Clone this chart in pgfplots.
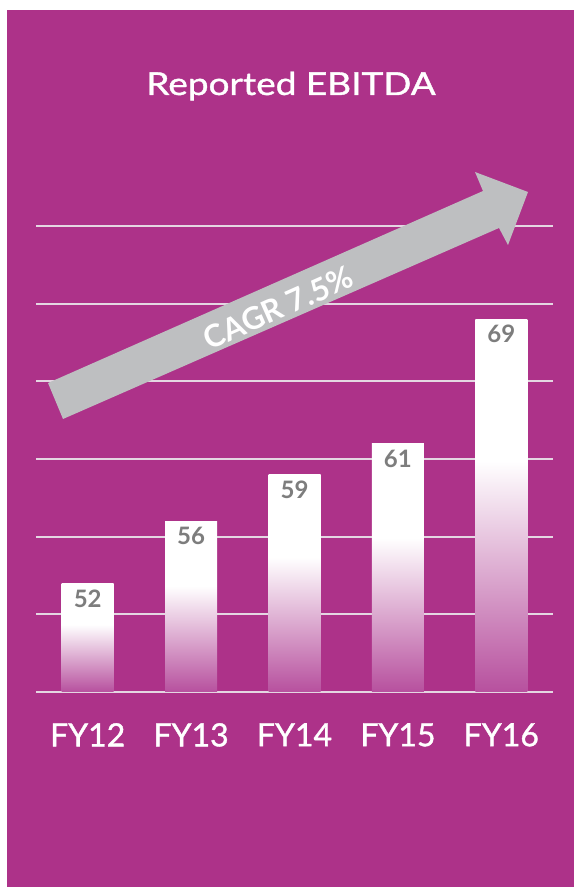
\documentclass[border=0pt]{standalone}
\usepackage{pgfplots}
\pgfplotsset{compat=1.18}
\usepackage{fontspec}
\setmainfont{Lato}
\newfontfamily\medfont{Lato}[FakeBold=1.2]
\newfontfamily\titlefont{Lato}[FakeBold=1.2, FakeStretch=1.17]
\definecolor{bg}{RGB}{173,50,137}
\definecolor{barbot}{RGB}{183,80,158}
\definecolor{gridc}{RGB}{228,214,226}
\definecolor{arrowc}{RGB}{190,191,193}
\definecolor{numc}{RGB}{125,125,125}
\pgfdeclareverticalshading{barfade}{100bp}{color(0bp)=(barbot); color(25bp)=(barbot); color(56bp)=(white); color(75bp)=(white); color(100bp)=(white)}
\begin{document}
\begin{tikzpicture}[x=1pt,y=1pt]
\fill[white] (0,0) rectangle (574,887);
\fill[bg] (7,0) rectangle (574,877);
\begin{axis}[
  at={(36pt,195pt)}, anchor=south west,
  scale only axis, width=517pt, height=466pt,
  xmin=-0.5, xmax=4.5, ymin=45, ymax=75,
  ytick={45,50,...,75}, yticklabels={},
  ymajorgrids, major grid style={gridc, line width=2pt},
  axis line style={draw=none}, major tick length=0pt,
  xtick={0,1,2,3,4}, xticklabels={FY12,FY13,FY14,FY15,FY16},
  xticklabel style={font=\medfont\fontsize{32}{34}\selectfont, text=white, inner sep=0pt, anchor=north, yshift=-31pt},
  ybar, bar width=52pt, bar shift=0pt,
  /pgf/number format/assume math mode=true,
  nodes near coords,
  every node near coord/.style={anchor=north, inner sep=0pt, yshift=-6pt, font=\fontsize{24}{26}\selectfont\bfseries, text=numc},
]
\addplot[draw=none, shading=barfade] coordinates {(0,52)};
\addplot[draw=none, shading=barfade] coordinates {(1,56)};
\addplot[draw=none, shading=barfade] coordinates {(2,59)};
\addplot[draw=none, shading=barfade] coordinates {(3,61)};
\addplot[draw=none, shading=barfade] coordinates {(4,69)};
\end{axis}
\fill[arrowc] (48,504) -- (63,468) -- (499,659) -- (508,642) -- (528,695) -- (475,715) -- (483,696) -- cycle;
\node[rotate=24, text=white, font=\fontsize{31}{33}\selectfont\bfseries] at (278,579) {CAGR 7.5\%};
\node[anchor=base, text=white, font=\titlefont\fontsize{31.6}{33}\selectfont, inner sep=0pt] at (291,792) {Reported EBITDA};
\end{tikzpicture}
\end{document}
